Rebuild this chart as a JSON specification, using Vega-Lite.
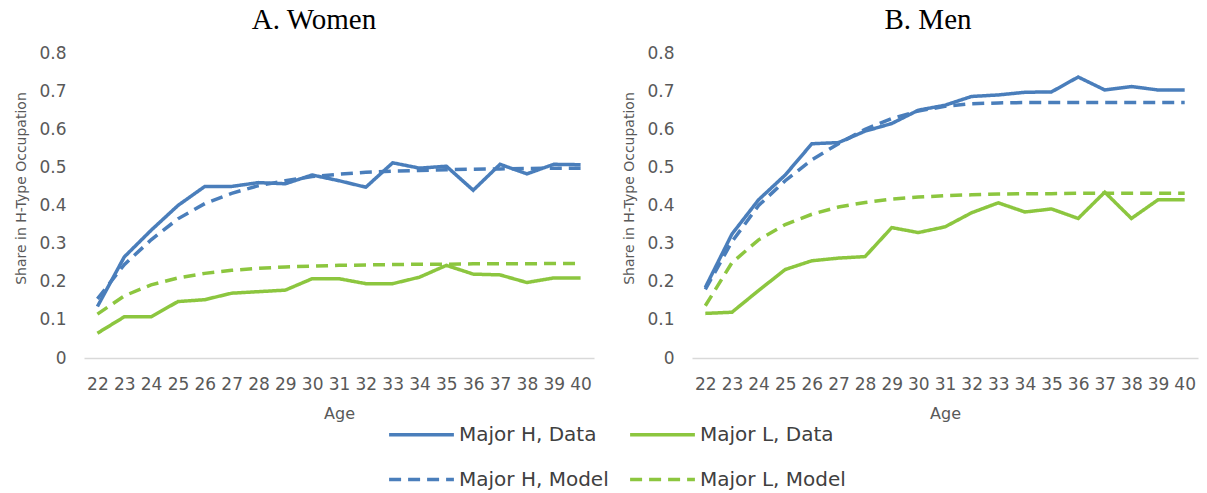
{
  "$schema": "https://vega.github.io/schema/vega-lite/v6.json",
  "background": "white",
  "padding": {"left": 14, "top": 6, "right": 2, "bottom": 0},
  "datasets": {
    "women": [
      {"age": 22, "series": "Major H, Data", "share": 0.135}, {"age": 23, "series": "Major H, Data", "share": 0.265}, {"age": 24, "series": "Major H, Data", "share": 0.335}, {"age": 25, "series": "Major H, Data", "share": 0.400}, {"age": 26, "series": "Major H, Data", "share": 0.450}, {"age": 27, "series": "Major H, Data", "share": 0.450}, {"age": 28, "series": "Major H, Data", "share": 0.460}, {"age": 29, "series": "Major H, Data", "share": 0.457}, {"age": 30, "series": "Major H, Data", "share": 0.480}, {"age": 31, "series": "Major H, Data", "share": 0.465}, {"age": 32, "series": "Major H, Data", "share": 0.448}, {"age": 33, "series": "Major H, Data", "share": 0.512}, {"age": 34, "series": "Major H, Data", "share": 0.498}, {"age": 35, "series": "Major H, Data", "share": 0.503}, {"age": 36, "series": "Major H, Data", "share": 0.440}, {"age": 37, "series": "Major H, Data", "share": 0.508}, {"age": 38, "series": "Major H, Data", "share": 0.483}, {"age": 39, "series": "Major H, Data", "share": 0.508}, {"age": 40, "series": "Major H, Data", "share": 0.507},
      {"age": 22, "series": "Major L, Data", "share": 0.065}, {"age": 23, "series": "Major L, Data", "share": 0.108}, {"age": 24, "series": "Major L, Data", "share": 0.108}, {"age": 25, "series": "Major L, Data", "share": 0.148}, {"age": 26, "series": "Major L, Data", "share": 0.153}, {"age": 27, "series": "Major L, Data", "share": 0.170}, {"age": 28, "series": "Major L, Data", "share": 0.174}, {"age": 29, "series": "Major L, Data", "share": 0.178}, {"age": 30, "series": "Major L, Data", "share": 0.208}, {"age": 31, "series": "Major L, Data", "share": 0.208}, {"age": 32, "series": "Major L, Data", "share": 0.195}, {"age": 33, "series": "Major L, Data", "share": 0.195}, {"age": 34, "series": "Major L, Data", "share": 0.212}, {"age": 35, "series": "Major L, Data", "share": 0.243}, {"age": 36, "series": "Major L, Data", "share": 0.220}, {"age": 37, "series": "Major L, Data", "share": 0.218}, {"age": 38, "series": "Major L, Data", "share": 0.198}, {"age": 39, "series": "Major L, Data", "share": 0.210}, {"age": 40, "series": "Major L, Data", "share": 0.210},
      {"age": 22, "series": "Major H, Model", "share": 0.155}, {"age": 23, "series": "Major H, Model", "share": 0.245}, {"age": 24, "series": "Major H, Model", "share": 0.310}, {"age": 25, "series": "Major H, Model", "share": 0.365}, {"age": 26, "series": "Major H, Model", "share": 0.405}, {"age": 27, "series": "Major H, Model", "share": 0.432}, {"age": 28, "series": "Major H, Model", "share": 0.452}, {"age": 29, "series": "Major H, Model", "share": 0.465}, {"age": 30, "series": "Major H, Model", "share": 0.476}, {"age": 31, "series": "Major H, Model", "share": 0.482}, {"age": 32, "series": "Major H, Model", "share": 0.487}, {"age": 33, "series": "Major H, Model", "share": 0.490}, {"age": 34, "series": "Major H, Model", "share": 0.492}, {"age": 35, "series": "Major H, Model", "share": 0.494}, {"age": 36, "series": "Major H, Model", "share": 0.495}, {"age": 37, "series": "Major H, Model", "share": 0.496}, {"age": 38, "series": "Major H, Model", "share": 0.497}, {"age": 39, "series": "Major H, Model", "share": 0.498}, {"age": 40, "series": "Major H, Model", "share": 0.498},
      {"age": 22, "series": "Major L, Model", "share": 0.115}, {"age": 23, "series": "Major L, Model", "share": 0.163}, {"age": 24, "series": "Major L, Model", "share": 0.192}, {"age": 25, "series": "Major L, Model", "share": 0.210}, {"age": 26, "series": "Major L, Model", "share": 0.222}, {"age": 27, "series": "Major L, Model", "share": 0.230}, {"age": 28, "series": "Major L, Model", "share": 0.235}, {"age": 29, "series": "Major L, Model", "share": 0.239}, {"age": 30, "series": "Major L, Model", "share": 0.241}, {"age": 31, "series": "Major L, Model", "share": 0.243}, {"age": 32, "series": "Major L, Model", "share": 0.244}, {"age": 33, "series": "Major L, Model", "share": 0.245}, {"age": 34, "series": "Major L, Model", "share": 0.246}, {"age": 35, "series": "Major L, Model", "share": 0.246}, {"age": 36, "series": "Major L, Model", "share": 0.247}, {"age": 37, "series": "Major L, Model", "share": 0.247}, {"age": 38, "series": "Major L, Model", "share": 0.247}, {"age": 39, "series": "Major L, Model", "share": 0.248}, {"age": 40, "series": "Major L, Model", "share": 0.248}
    ],
    "men": [
      {"age": 22, "series": "Major H, Data", "share": 0.185}, {"age": 23, "series": "Major H, Data", "share": 0.325}, {"age": 24, "series": "Major H, Data", "share": 0.415}, {"age": 25, "series": "Major H, Data", "share": 0.480}, {"age": 26, "series": "Major H, Data", "share": 0.562}, {"age": 27, "series": "Major H, Data", "share": 0.565}, {"age": 28, "series": "Major H, Data", "share": 0.595}, {"age": 29, "series": "Major H, Data", "share": 0.615}, {"age": 30, "series": "Major H, Data", "share": 0.650}, {"age": 31, "series": "Major H, Data", "share": 0.663}, {"age": 32, "series": "Major H, Data", "share": 0.686}, {"age": 33, "series": "Major H, Data", "share": 0.690}, {"age": 34, "series": "Major H, Data", "share": 0.697}, {"age": 35, "series": "Major H, Data", "share": 0.698}, {"age": 36, "series": "Major H, Data", "share": 0.737}, {"age": 37, "series": "Major H, Data", "share": 0.703}, {"age": 38, "series": "Major H, Data", "share": 0.712}, {"age": 39, "series": "Major H, Data", "share": 0.703}, {"age": 40, "series": "Major H, Data", "share": 0.703},
      {"age": 22, "series": "Major L, Data", "share": 0.117}, {"age": 23, "series": "Major L, Data", "share": 0.120}, {"age": 24, "series": "Major L, Data", "share": 0.177}, {"age": 25, "series": "Major L, Data", "share": 0.232}, {"age": 26, "series": "Major L, Data", "share": 0.255}, {"age": 27, "series": "Major L, Data", "share": 0.262}, {"age": 28, "series": "Major L, Data", "share": 0.266}, {"age": 29, "series": "Major L, Data", "share": 0.342}, {"age": 30, "series": "Major L, Data", "share": 0.329}, {"age": 31, "series": "Major L, Data", "share": 0.344}, {"age": 32, "series": "Major L, Data", "share": 0.381}, {"age": 33, "series": "Major L, Data", "share": 0.407}, {"age": 34, "series": "Major L, Data", "share": 0.383}, {"age": 35, "series": "Major L, Data", "share": 0.391}, {"age": 36, "series": "Major L, Data", "share": 0.366}, {"age": 37, "series": "Major L, Data", "share": 0.435}, {"age": 38, "series": "Major L, Data", "share": 0.366}, {"age": 39, "series": "Major L, Data", "share": 0.415}, {"age": 40, "series": "Major L, Data", "share": 0.415},
      {"age": 22, "series": "Major H, Model", "share": 0.180}, {"age": 23, "series": "Major H, Model", "share": 0.305}, {"age": 24, "series": "Major H, Model", "share": 0.400}, {"age": 25, "series": "Major H, Model", "share": 0.465}, {"age": 26, "series": "Major H, Model", "share": 0.520}, {"age": 27, "series": "Major H, Model", "share": 0.562}, {"age": 28, "series": "Major H, Model", "share": 0.600}, {"age": 29, "series": "Major H, Model", "share": 0.628}, {"age": 30, "series": "Major H, Model", "share": 0.648}, {"age": 31, "series": "Major H, Model", "share": 0.660}, {"age": 32, "series": "Major H, Model", "share": 0.667}, {"age": 33, "series": "Major H, Model", "share": 0.669}, {"age": 34, "series": "Major H, Model", "share": 0.670}, {"age": 35, "series": "Major H, Model", "share": 0.670}, {"age": 36, "series": "Major H, Model", "share": 0.670}, {"age": 37, "series": "Major H, Model", "share": 0.670}, {"age": 38, "series": "Major H, Model", "share": 0.670}, {"age": 39, "series": "Major H, Model", "share": 0.670}, {"age": 40, "series": "Major H, Model", "share": 0.670},
      {"age": 22, "series": "Major L, Model", "share": 0.137}, {"age": 23, "series": "Major L, Model", "share": 0.250}, {"age": 24, "series": "Major L, Model", "share": 0.310}, {"age": 25, "series": "Major L, Model", "share": 0.350}, {"age": 26, "series": "Major L, Model", "share": 0.377}, {"age": 27, "series": "Major L, Model", "share": 0.396}, {"age": 28, "series": "Major L, Model", "share": 0.408}, {"age": 29, "series": "Major L, Model", "share": 0.417}, {"age": 30, "series": "Major L, Model", "share": 0.422}, {"age": 31, "series": "Major L, Model", "share": 0.426}, {"age": 32, "series": "Major L, Model", "share": 0.428}, {"age": 33, "series": "Major L, Model", "share": 0.430}, {"age": 34, "series": "Major L, Model", "share": 0.431}, {"age": 35, "series": "Major L, Model", "share": 0.431}, {"age": 36, "series": "Major L, Model", "share": 0.432}, {"age": 37, "series": "Major L, Model", "share": 0.432}, {"age": 38, "series": "Major L, Model", "share": 0.432}, {"age": 39, "series": "Major L, Model", "share": 0.432}, {"age": 40, "series": "Major L, Model", "share": 0.432}
    ]
  },
  "bounds": "flush",
  "spacing": 98,
  "hconcat": [
    {
      "title": {"text": "A. Women", "dx": -25},
      "width": 510,
      "height": 305,
      "data": {"name": "women"},
      "mark": {"type": "line", "strokeWidth": 3.5},
      "encoding": {
        "x": {"field": "age", "type": "ordinal", "scale": {"type": "point", "padding": 0.5}, "axis": {"title": "Age"}},
        "y": {"field": "share", "type": "quantitative", "scale": {"domain": [0, 0.8]}, "axis": {"title": "Share in H-Type Occupation", "values": [0, 0.1, 0.2, 0.3, 0.4, 0.5, 0.6, 0.7, 0.8], "format": "~g"}},
        "color": {"field": "series", "type": "nominal", "scale": {"domain": ["Major H, Data", "Major L, Data", "Major H, Model", "Major L, Model"], "range": ["#4a7ebb", "#8cc63f", "#4a7ebb", "#8cc63f"]}},
        "strokeDash": {"field": "series", "type": "nominal", "scale": {"domain": ["Major H, Data", "Major L, Data", "Major H, Model", "Major L, Model"], "range": [[1, 0], [1, 0], [12, 7], [12, 7]]}}
      }
    },
    {
      "title": {"text": "B. Men", "dx": -17},
      "width": 506,
      "height": 305,
      "data": {"name": "men"},
      "mark": {"type": "line", "strokeWidth": 3.5},
      "encoding": {
        "x": {"field": "age", "type": "ordinal", "scale": {"type": "point", "padding": 0.5}, "axis": {"title": "Age"}},
        "y": {"field": "share", "type": "quantitative", "scale": {"domain": [0, 0.8]}, "axis": {"title": "Share in H-Type Occupation", "values": [0, 0.1, 0.2, 0.3, 0.4, 0.5, 0.6, 0.7, 0.8], "format": "~g"}},
        "color": {"field": "series", "type": "nominal", "scale": {"domain": ["Major H, Data", "Major L, Data", "Major H, Model", "Major L, Model"], "range": ["#4a7ebb", "#8cc63f", "#4a7ebb", "#8cc63f"]}},
        "strokeDash": {"field": "series", "type": "nominal", "scale": {"domain": ["Major H, Data", "Major L, Data", "Major H, Model", "Major L, Model"], "range": [[1, 0], [1, 0], [12, 7], [12, 7]]}}
      }
    }
  ],
  "resolve": {"scale": {"color": "shared", "strokeDash": "shared"}, "legend": {"color": "shared", "strokeDash": "shared"}},
  "config": {
    "view": {"stroke": null},
    "title": {"font": "Liberation Serif", "fontSize": 29, "fontWeight": "normal", "color": "#000000", "anchor": "middle", "offset": 9},
    "axis": {"grid": false, "ticks": false, "labelFont": "DejaVu Sans", "labelFontSize": 17, "labelColor": "#595959", "titleFont": "DejaVu Sans", "titleFontSize": 14, "titleFontWeight": "normal", "titleColor": "#595959"},
    "axisX": {"labelAngle": 0, "domainColor": "#d9d9d9", "domainWidth": 1.5, "labelPadding": 18, "titlePadding": 13, "titleFontSize": 16},
    "axisY": {"domain": false, "labelPadding": 18, "titlePadding": 10, "titleY": 135},
    "legend": {"orient": "none", "legendX": 303, "legendY": 347, "direction": "horizontal", "columns": 2, "title": null, "symbolType": "stroke", "symbolSize": 4200, "symbolStrokeWidth": 3.5, "labelFont": "DejaVu Sans", "labelFontSize": 20, "labelColor": "#404040", "labelOffset": 3, "rowPadding": 0, "columnPadding": 14, "labelLimit": 300}
  }
}
